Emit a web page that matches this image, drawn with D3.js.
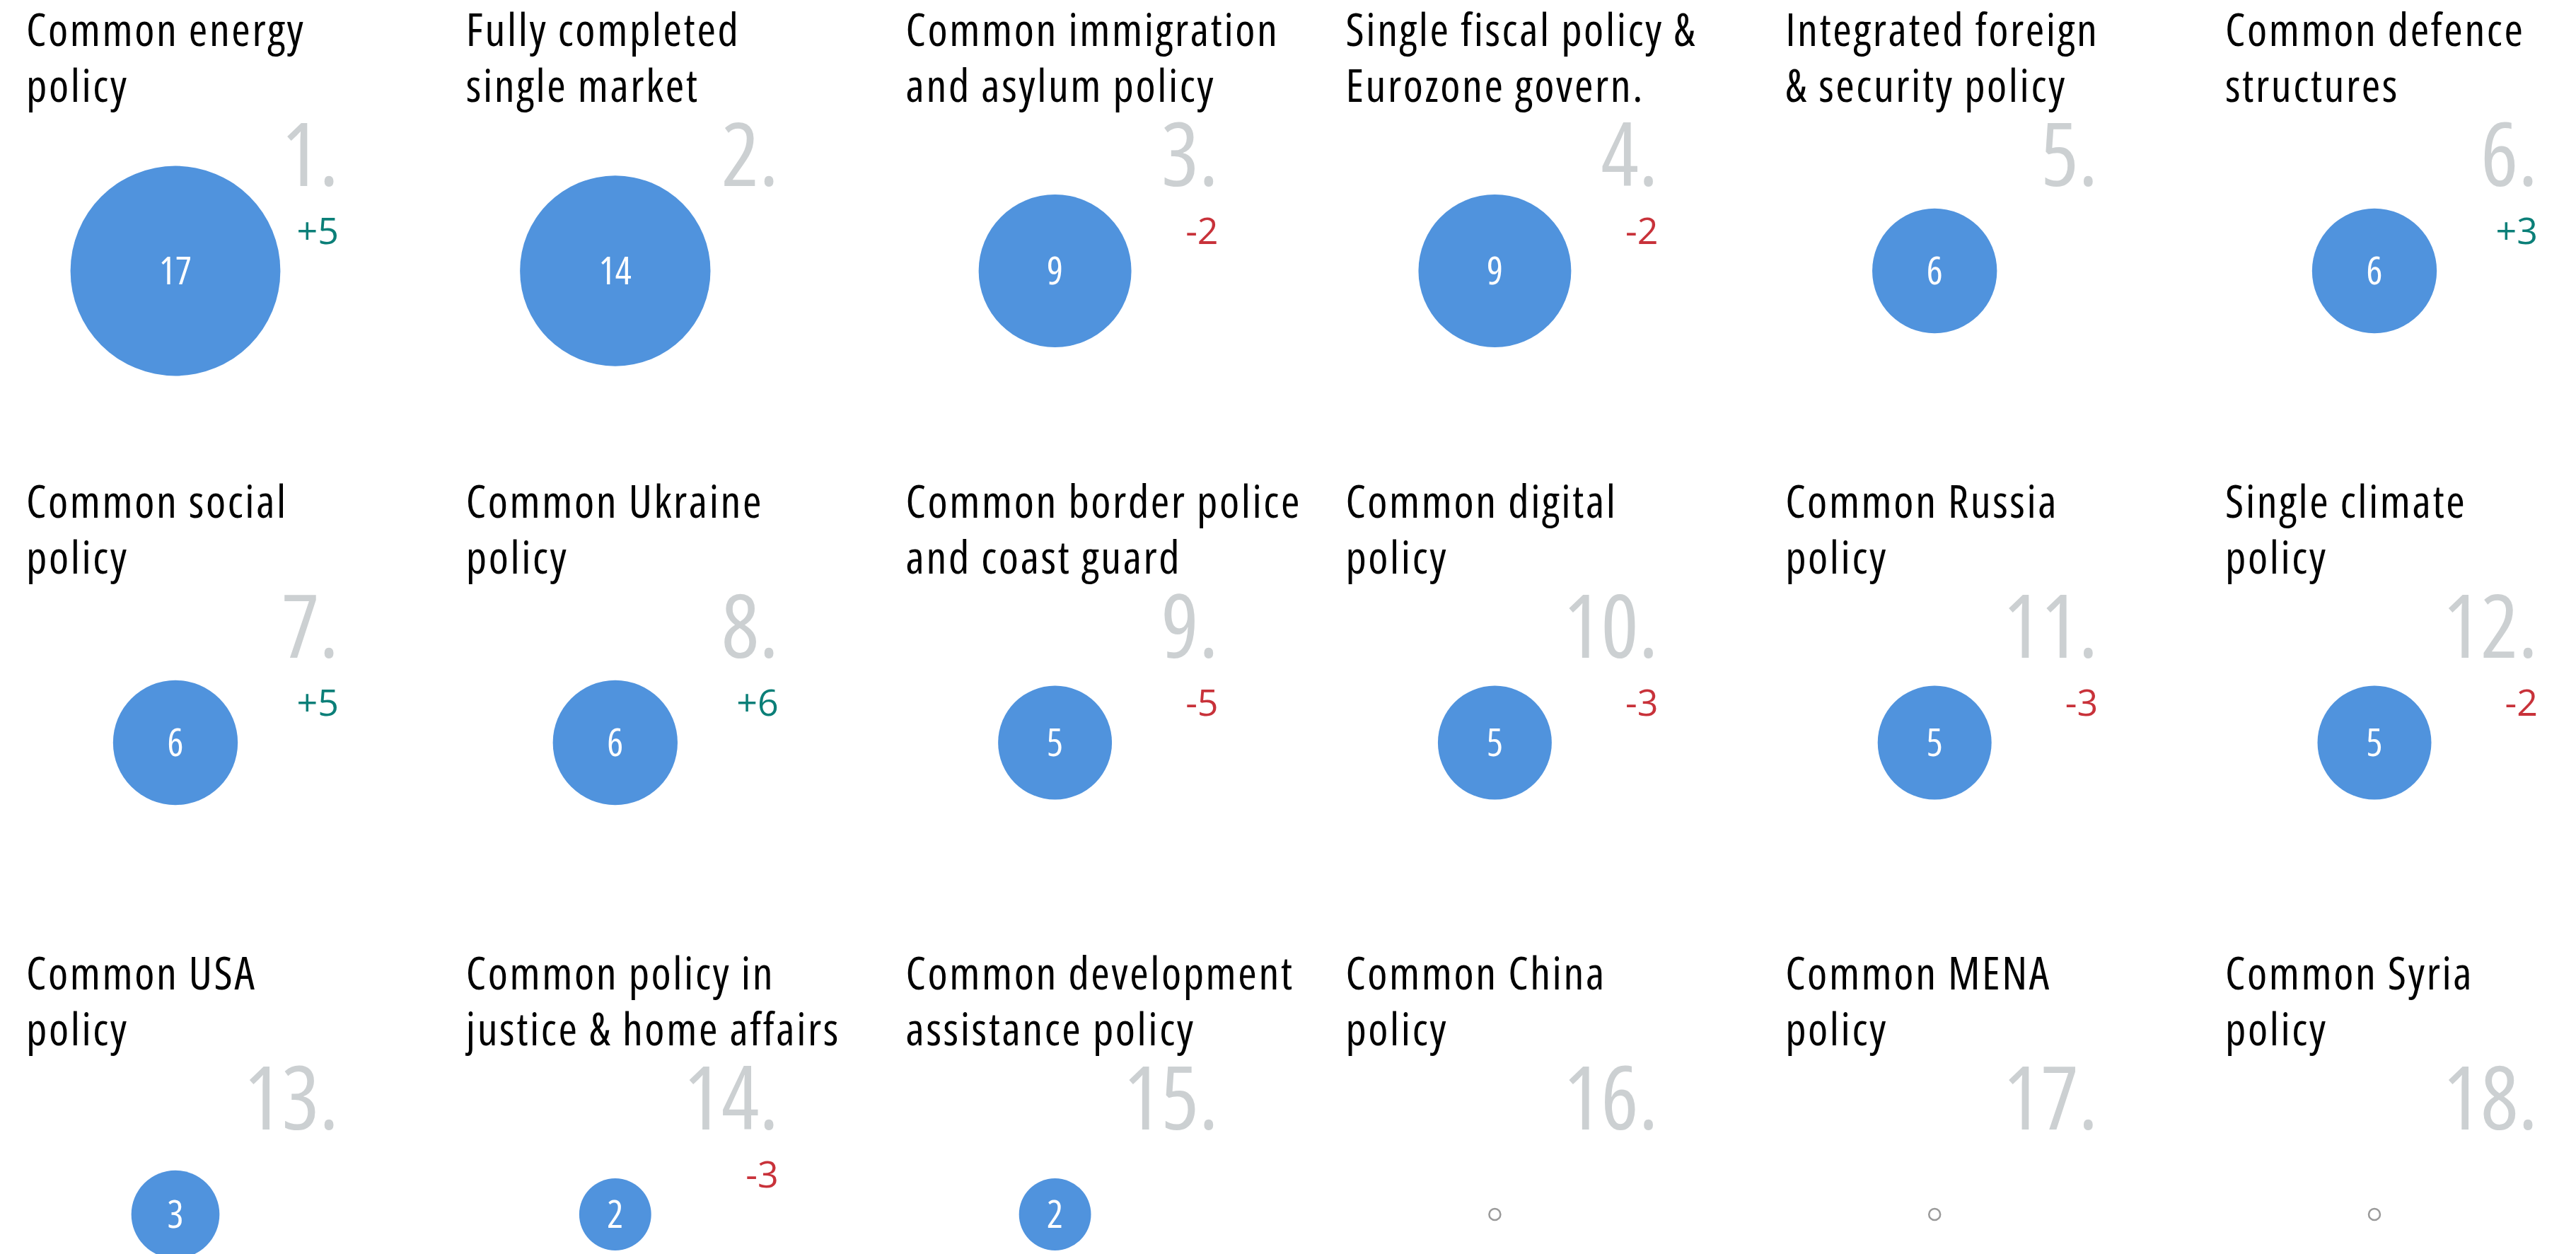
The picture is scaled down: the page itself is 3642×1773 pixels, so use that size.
<!DOCTYPE html>
<html>
<head>
<meta charset="utf-8">
<script src="https://cdn.jsdelivr.net/npm/d3@7"></script>
<style>
  html, body { margin: 0; padding: 0; background: #fff; }
  svg { display: block; }
  text { font-family: "Open Sans", sans-serif; font-stretch: 87.5%; }
  .title { fill: #000; font-size: 64px; font-weight: 500; letter-spacing: 2.6px; }
  .rank { fill: #ccd0d2; font-size: 125px; text-anchor: end; }
  .delta { font-size: 52px; text-anchor: end; font-stretch: 100%; }
  .value { fill: #fff; font-size: 54px; text-anchor: middle; }
</style>
</head>
<body>
<div id="ChartContainer"></div>
<script>
const titles = [
  ["Common energy", "policy"],
  ["Fully completed", "single market"],
  ["Common immigration", "and asylum policy"],
  ["Single fiscal policy &", "Eurozone govern."],
  ["Integrated foreign", "& security policy"],
  ["Common defence", "structures"],
  ["Common social", "policy"],
  ["Common Ukraine", "policy"],
  ["Common border police", "and coast guard"],
  ["Common digital", "policy"],
  ["Common Russia", "policy"],
  ["Single climate", "policy"],
  ["Common USA", "policy"],
  ["Common policy in", "justice & home affairs"],
  ["Common development", "assistance policy"],
  ["Common China", "policy"],
  ["Common MENA", "policy"],
  ["Common Syria", "policy"],
]
const values = [17, 14, 9, 9, 6, 6, 6, 6, 5, 5, 5, 5, 3, 2, 2, 0, 0, 0]
const changes = [5, null, -2, -2, null, 3, 5, 6, -5, -3, -3, -2, null, -3, null, null, null, null]

const data = titles.map((t, i) => ({
  rank: i + 1,
  title: t,
  value: values[i],
  change: changes[i],
  col: i % 6,
  row: Math.floor(i / 6),
}))

var 維 = {
  width: 3642,
  height: 1773,
  colStart: 37,
  colStep: 621.8,
  rowStart: 0,
  rowStep: 667,
  title: { y: 65, lineHeight: 79 },
  circle: { dx: 211, y: 383 },
  rank: { dx: 442, y: 263 },
  delta: { y: 345 },
  maxRadius: 148.4,
  emptyRadius: 8,
}

var xScale = d3.scaleLinear()
  .domain([0, 5])
  .range([維.colStart, 維.colStart + 5 * 維.colStep])
var yScale = d3.scaleLinear()
  .domain([0, 2])
  .range([維.rowStart, 維.rowStart + 2 * 維.rowStep])
var rScale = d3.scaleSqrt()
  .domain([0, d3.max(values)])
  .range([0, 維.maxRadius])

var svg = d3.select("#ChartContainer").append("svg")
  .attr("width", 維.width)
  .attr("height", 維.height)

var cell = svg.selectAll(".cell")
  .data(data)
  .enter().append("g")
  .attr("class", "cell")
  .attr("transform", d => `translate(${xScale(d.col)},${yScale(d.row)})`)

cell.append("text")
  .attr("class", "title")
  .selectAll("tspan")
  .data(d => d.title)
  .enter().append("tspan")
  .attr("x", 0)
  .attr("y", (d, i) => 維.title.y + i * 維.title.lineHeight)
  .text(d => d)

cell.append("text")
  .attr("class", "rank")
  .attr("x", 維.rank.dx)
  .attr("y", 維.rank.y)
  .text(d => d.rank + ".")

cell.filter(d => d.change !== null).append("text")
  .attr("class", "delta")
  .attr("x", 維.rank.dx)
  .attr("y", 維.delta.y)
  .attr("fill", d => d.change > 0 ? "#0b7f78" : "#c8323a")
  .text(d => (d.change > 0 ? "+" : "-") + Math.abs(d.change))

// filled circles
var full = cell.filter(d => d.value > 0)
full.append("circle")
  .attr("cx", 維.circle.dx)
  .attr("cy", 維.circle.y)
  .attr("r", d => rScale(d.value))
  .attr("fill", "#5093dd")
full.append("text")
  .attr("class", "value")
  .attr("x", 維.circle.dx)
  .attr("y", 維.circle.y)
  .attr("dy", "0.36em")
  .text(d => d.value)

// empty markers for zero
cell.filter(d => d.value === 0).append("circle")
  .attr("cx", 維.circle.dx)
  .attr("cy", 維.circle.y)
  .attr("r", 維.emptyRadius)
  .attr("fill", "none")
  .attr("stroke", "#9a9a9a")
  .attr("stroke-width", 2.5)
</script>
</body>
</html>
